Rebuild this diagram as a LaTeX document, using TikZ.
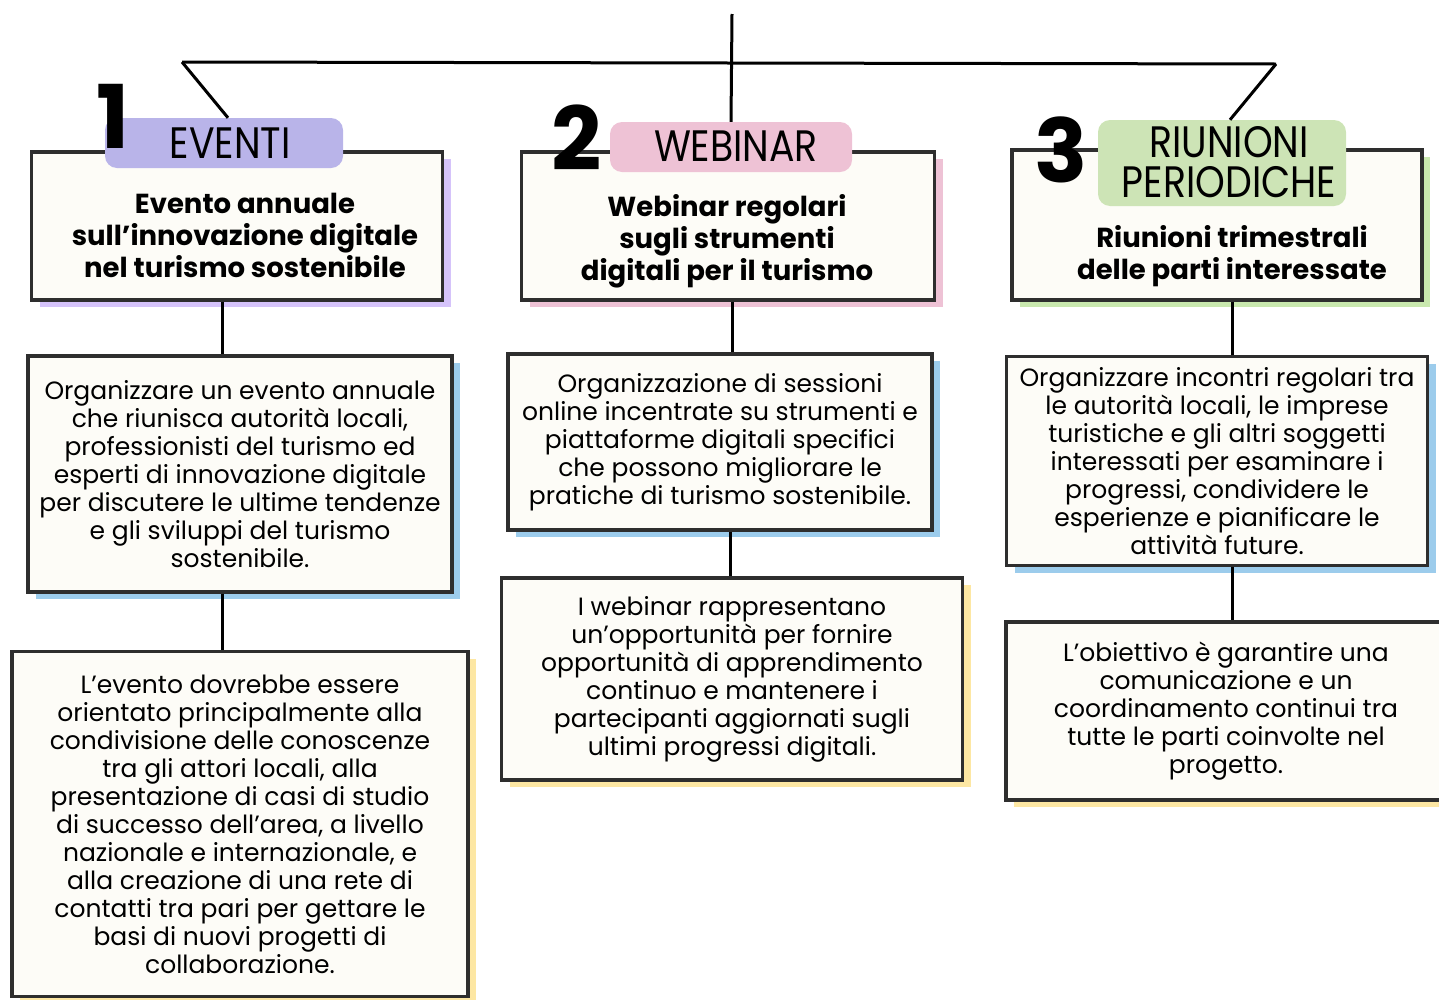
\documentclass[tikz,border=0pt]{standalone}
\usepackage{fontspec}
\setmainfont{Poppins}
\usetikzlibrary{shadows}
\definecolor{boxfill}{HTML}{FDFCF7}
\definecolor{boxline}{HTML}{2E2E2E}
\definecolor{lilac}{HTML}{B9B4E9}
\definecolor{lilacshade}{HTML}{D5C3FA}
\definecolor{rosa}{HTML}{EEC2D5}
\definecolor{verde}{HTML}{CDE4B6}
\definecolor{verdeshade}{HTML}{C9E8AE}
\definecolor{azzurro}{HTML}{9CCCEC}
\definecolor{giallo}{HTML}{FDE7A3}
\begin{document}
\begin{tikzpicture}[x=1pt,y=-1pt,
            card/.style={draw=boxline, line width=3.5pt, fill=boxfill, align=center,
                inner sep=0pt, font=\fontsize{25}{28}\selectfont},
            shade/.style={drop shadow={shadow xshift=8pt, shadow yshift=-7pt, fill=#1, opacity=1}},
            pill/.style={fill=#1, rounded corners=12pt, inner sep=0pt},
            headtxt/.style={align=center, xscale=.86, transform shape, font=\fontsize{44}{40}\selectfont},
            titletxt/.style={align=center, font=\fontsize{27.5}{32}\selectfont\bfseries},
            numtxt/.style={font=\fontsize{88}{88}\selectfont\bfseries},
            link/.style={line width=3pt}]
            \useasboundingbox (0,0) rectangle (1439,999);
            \coordinate (top) at (732,14);
            \coordinate (hl) at (182,62);
            \coordinate (hr) at (1276,64);

            % title cards
            \node[card, shade=lilacshade, minimum width=411pt, minimum height=148pt] (ev) at (237,226) {};
            \node[card, shade=rosa, minimum width=413pt, minimum height=148pt] (we) at (728,226) {};
            \node[card, shade=verdeshade, minimum width=410pt, minimum height=150pt] (ri) at (1217,225) {};
            \node[titletxt] (evtxt) at (245,235) {Evento annuale\\sull'innovazione digitale\\nel turismo sostenibile};
            \node[titletxt] (wetxt) at (727,241) {Webinar regolari\\sugli strumenti\\digitali per il turismo};
            \node[titletxt] (ritxt) at (1232,256) {Riunioni trimestrali\\delle parti interessate};

            % labels
            \node[pill=lilac, minimum width=238pt, minimum height=50pt] (p1) at (224,143) {};
            \node[pill=rosa, minimum width=242pt, minimum height=50pt] (p2) at (731,147) {};
            \node[pill=verde, minimum width=248pt, minimum height=86pt] (p3) at (1222,163) {};
            \node[headtxt] (h1) at (230,143) {EVENTI};
            \node[headtxt] (h2) at (736,146) {WEBINAR};
            \node[headtxt] (h3) at (1229,162) {RIUNIONI\\PERIODICHE};
            \node[numtxt] (n1) at (113,116) {1};
            \node[numtxt] (n2) at (577,138) {2};
            \node[numtxt] (n3) at (1061,150) {3};

            % second row
            \node[card, shade=azzurro, minimum width=424pt, minimum height=236pt] (ev2) at (240,474)
                {Organizzare un evento annuale\\che riunisca autorità locali,\\professionisti del turismo ed\\esperti di innovazione digitale\\per discutere le ultime tendenze\\e gli sviluppi del turismo\\sostenibile.};
            \node[card, shade=azzurro, minimum width=424pt, minimum height=176pt] (we2) at (720,442)
                {Organizzazione di sessioni\\online incentrate su strumenti e\\piattaforme digitali specifici\\che possono migliorare le\\pratiche di turismo sostenibile.};
            \node[card, shade=azzurro, minimum width=421pt, minimum height=209pt] (ri2) at (1217,461)
                {Organizzare incontri regolari tra\\le autorità locali, le imprese\\turistiche e gli altri soggetti\\interessati per esaminare i\\progressi, condividere le\\esperienze e pianificare le\\attività future.};

            % third row
            \node[card, shade=giallo, minimum width=456pt, minimum height=345pt] (ev3) at (240,824)
                {L'evento dovrebbe essere\\orientato principalmente alla\\condivisione delle conoscenze\\tra gli attori locali, alla\\presentazione di casi di studio\\di successo dell'area, a livello\\nazionale e internazionale, e\\alla creazione di una rete di\\contatti tra pari per gettare le\\basi di nuovi progetti di\\collaborazione.};
            \node[card, shade=giallo, minimum width=461pt, minimum height=202pt] (we3) at (732,679)
                {I webinar rappresentano\\un'opportunità per fornire\\opportunità di apprendimento\\continuo e mantenere i\\partecipanti aggiornati sugli\\ultimi progressi digitali.};
            \node[card, shade=giallo, minimum width=440pt, minimum height=178pt] (ri3) at (1226,711)
                {L'obiettivo è garantire una\\comunicazione e un\\coordinamento continui tra\\tutte le parti coinvolte nel\\progetto.};

            % tree lines
            \draw[link] (top) -- (p2.north);
            \draw[link] (hl) -- (hr);
            \draw[link] (hl) -- ([xshift=4pt]p1.north);
            \draw[link] (hr) -- ([xshift=8pt]p3.north);
            \draw[link] ([xshift=-15pt]ev.south) -- ([xshift=-15pt]ev.south |- ev2.north);
            \draw[link] ([xshift=-18pt]ev2.south) -- ([xshift=-18pt]ev2.south |- ev3.north);
            \draw[link] ([xshift=4pt]we.south) -- ([xshift=4pt]we.south |- we2.north);
            \draw[link] ([xshift=10pt]we2.south) -- ([xshift=10pt]we2.south |- we3.north);
            \draw[link] ([xshift=15pt]ri.south) -- ([xshift=15pt]ri.south |- ri2.north);
            \draw[link] ([xshift=15pt]ri2.south) -- ([xshift=15pt]ri2.south |- ri3.north);
        \end{tikzpicture}
\end{document}
